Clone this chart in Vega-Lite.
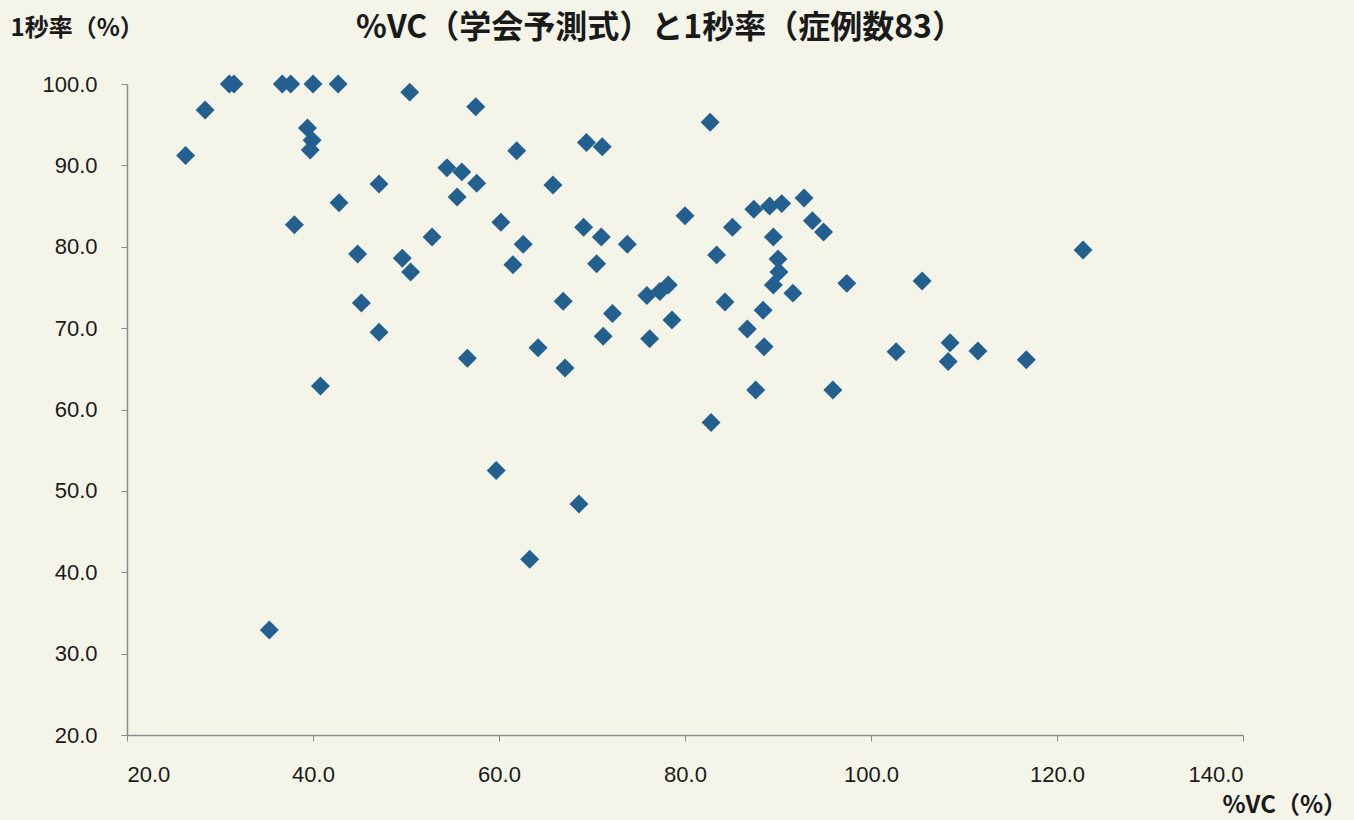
{
  "$schema": "https://vega.github.io/schema/vega-lite/v6.json",
  "autosize": "none",
  "width": 1116,
  "height": 651,
  "padding": {"left": 127, "top": 84, "right": 111, "bottom": 85},
  "background": "#f4f5e8",
  "title": {
    "text": "%VC（学会予測式）と1秒率（症例数83）",
    "anchor": "middle",
    "frame": "group",
    "dx": -25,
    "offset": -29,
    "font": "Noto Sans CJK JP",
    "fontSize": 32,
    "fontWeight": "bold",
    "color": "#1a1a1a"
  },
  "data": {
    "values": [
      {"vc": 26.3, "fev": 91.2}, {"vc": 28.4, "fev": 96.8}, {"vc": 31.0, "fev": 100.0}, {"vc": 31.5, "fev": 100.0},
      {"vc": 36.7, "fev": 100.0}, {"vc": 37.6, "fev": 100.0}, {"vc": 40.0, "fev": 100.0}, {"vc": 42.7, "fev": 100.0},
      {"vc": 50.4, "fev": 99.0}, {"vc": 57.5, "fev": 97.2}, {"vc": 39.4, "fev": 94.6}, {"vc": 39.9, "fev": 93.1},
      {"vc": 39.7, "fev": 91.9}, {"vc": 54.4, "fev": 89.7}, {"vc": 56.0, "fev": 89.2}, {"vc": 57.6, "fev": 87.8},
      {"vc": 55.5, "fev": 86.1}, {"vc": 47.1, "fev": 87.7}, {"vc": 42.8, "fev": 85.4}, {"vc": 38.0, "fev": 82.7},
      {"vc": 52.8, "fev": 81.2}, {"vc": 44.8, "fev": 79.1}, {"vc": 49.6, "fev": 78.6}, {"vc": 50.5, "fev": 76.9},
      {"vc": 45.2, "fev": 73.1}, {"vc": 47.1, "fev": 69.5}, {"vc": 56.6, "fev": 66.3}, {"vc": 40.8, "fev": 62.9},
      {"vc": 35.3, "fev": 32.9}, {"vc": 82.7, "fev": 95.3}, {"vc": 61.9, "fev": 91.8}, {"vc": 69.4, "fev": 92.8},
      {"vc": 71.1, "fev": 92.3}, {"vc": 65.8, "fev": 87.6}, {"vc": 60.2, "fev": 83.0}, {"vc": 69.1, "fev": 82.4},
      {"vc": 71.0, "fev": 81.2}, {"vc": 73.8, "fev": 80.3}, {"vc": 62.6, "fev": 80.3}, {"vc": 61.5, "fev": 77.8},
      {"vc": 70.5, "fev": 77.9}, {"vc": 80.0, "fev": 83.8}, {"vc": 85.1, "fev": 82.4}, {"vc": 83.4, "fev": 79.0},
      {"vc": 66.9, "fev": 73.3}, {"vc": 72.2, "fev": 71.8}, {"vc": 71.2, "fev": 69.0}, {"vc": 64.2, "fev": 67.6},
      {"vc": 67.1, "fev": 65.1}, {"vc": 75.9, "fev": 74.0}, {"vc": 77.3, "fev": 74.5}, {"vc": 78.2, "fev": 75.3},
      {"vc": 78.6, "fev": 71.0}, {"vc": 76.2, "fev": 68.7}, {"vc": 84.3, "fev": 73.2}, {"vc": 89.5, "fev": 75.3},
      {"vc": 91.6, "fev": 74.3}, {"vc": 88.4, "fev": 72.2}, {"vc": 86.7, "fev": 69.9}, {"vc": 88.5, "fev": 67.7},
      {"vc": 87.6, "fev": 62.4}, {"vc": 82.8, "fev": 58.4}, {"vc": 59.7, "fev": 52.5}, {"vc": 68.6, "fev": 48.4},
      {"vc": 63.3, "fev": 41.6}, {"vc": 87.4, "fev": 84.6}, {"vc": 89.1, "fev": 85.0}, {"vc": 90.4, "fev": 85.3},
      {"vc": 92.8, "fev": 86.0}, {"vc": 93.7, "fev": 83.2}, {"vc": 94.9, "fev": 81.8}, {"vc": 89.5, "fev": 81.2},
      {"vc": 90.0, "fev": 78.5}, {"vc": 90.1, "fev": 76.9}, {"vc": 97.4, "fev": 75.5}, {"vc": 95.9, "fev": 62.4},
      {"vc": 105.5, "fev": 75.8}, {"vc": 122.8, "fev": 79.6}, {"vc": 102.7, "fev": 67.1}, {"vc": 108.5, "fev": 68.2},
      {"vc": 108.3, "fev": 65.9}, {"vc": 111.5, "fev": 67.2}, {"vc": 116.7, "fev": 66.1}
    ]
  },
  "mark": {"type": "point", "shape": "diamond", "filled": true, "size": 360, "color": "#23608f", "opacity": 1},
  "encoding": {
    "x": {
      "field": "vc", "type": "quantitative",
      "scale": {"domain": [20, 140], "nice": false, "zero": false},
      "axis": {
        "title": "%VC（%）", "values": [20, 40, 60, 80, 100, 120, 140], "format": ".1f",
        "grid": false, "domainColor": "#8a8a8a", "domainWidth": 1.5, "tickColor": "#8a8a8a", "tickSize": 6,
        "labelFont": "Liberation Sans", "labelFontSize": 22, "labelColor": "#1a1a1a", "labelPadding": 23,
        "titleFont": "Noto Sans CJK JP", "titleFontSize": 24, "titleFontWeight": "bold", "titleColor": "#1a1a1a",
        "titleX": 1095, "titleY": 70, "titleAlign": "left", "titleBaseline": "middle", "titleAnchor": null
      }
    },
    "y": {
      "field": "fev", "type": "quantitative",
      "scale": {"domain": [20, 100], "nice": false, "zero": false},
      "axis": {
        "title": "1秒率（%）", "values": [20, 30, 40, 50, 60, 70, 80, 90, 100], "format": ".1f",
        "grid": false, "domainColor": "#8a8a8a", "domainWidth": 1.5, "tickColor": "#8a8a8a", "tickSize": 6,
        "labelFont": "Liberation Sans", "labelFontSize": 22, "labelColor": "#1a1a1a", "labelPadding": 24,
        "titleFont": "Noto Sans CJK JP", "titleFontSize": 24, "titleFontWeight": "bold", "titleColor": "#1a1a1a",
        "titleAngle": 0, "titleX": -117, "titleY": -56, "titleAlign": "left", "titleBaseline": "middle"
      }
    }
  },
  "config": {"view": {"stroke": null}}
}
